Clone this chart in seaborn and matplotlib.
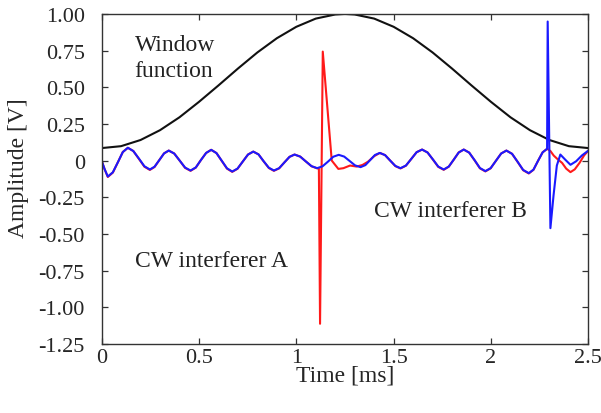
import pandas as pd
import matplotlib
matplotlib.use("Agg")
import matplotlib.pyplot as plt
import seaborn as sns

# Window function (black curve)
t_window = [0.0, 0.1, 0.2, 0.3, 0.4, 0.5, 0.6, 0.7, 0.8, 0.9, 1.0, 1.1, 1.2, 1.25,
            1.3, 1.4, 1.5, 1.6, 1.7, 1.8, 1.9, 2.0, 2.1, 2.2, 2.3, 2.4, 2.5]
v_window = [0.085, 0.098, 0.140, 0.207, 0.295, 0.400, 0.512, 0.627, 0.737, 0.834, 0.912, 0.968, 0.996, 1.000,
            0.996, 0.968, 0.912, 0.834, 0.737, 0.627, 0.512, 0.400, 0.295, 0.207, 0.140, 0.098, 0.085]

# CW interferer B (blue)
t_blue = [0.000, 0.016, 0.032, 0.058, 0.084, 0.109, 0.135,
          0.163, 0.192, 0.220, 0.248,
          0.272, 0.297, 0.321, 0.345,
          0.373, 0.401, 0.429, 0.457,
          0.484, 0.510, 0.537, 0.563,
          0.590, 0.617, 0.644, 0.671,
          0.698, 0.725, 0.752, 0.779,
          0.806, 0.832, 0.859, 0.885,
          0.912, 0.938, 0.965, 0.991,
          1.020, 1.049, 1.078, 1.107,
          1.135, 1.163, 1.190, 1.218,
          1.246, 1.274, 1.302, 1.330,
          1.355, 1.380, 1.404, 1.429,
          1.456, 1.482, 1.509, 1.535,
          1.563, 1.591, 1.618, 1.646,
          1.674, 1.702, 1.729, 1.757,
          1.783, 1.809, 1.834, 1.860,
          1.888, 1.916, 1.943, 1.971,
          1.998, 2.025, 2.052, 2.079,
          2.108, 2.137, 2.165, 2.194,
          2.218, 2.241, 2.265, 2.288,
          2.291, 2.305, 2.321, 2.338, 2.356, 2.382, 2.408, 2.437, 2.467, 2.500]
v_blue = [0.000, -0.060, -0.109, -0.080, -0.011, 0.058, 0.087,
          0.065, 0.013, -0.039, -0.061,
          -0.042, 0.004, 0.049, 0.068,
          0.048, 0.000, -0.048, -0.068,
          -0.047, 0.003, 0.052, 0.073,
          0.051, -0.001, -0.053, -0.075,
          -0.055, -0.007, 0.041, 0.061,
          0.042, -0.004, -0.049, -0.068,
          -0.052, -0.014, 0.025, 0.041,
          0.027, -0.006, -0.038, -0.052,
          -0.039, -0.007, 0.026, 0.039,
          0.027, -0.003, -0.033, -0.045,
          -0.031, 0.004, 0.038, 0.052,
          0.037, 0.000, -0.037, -0.052,
          -0.034, 0.012, 0.057, 0.075,
          0.055, 0.007, -0.041, -0.061,
          -0.041, 0.007, 0.055, 0.075,
          0.054, 0.002, -0.051, -0.072,
          -0.052, -0.002, 0.048, 0.068,
          0.046, -0.009, -0.064, -0.086,
          -0.062, -0.003, 0.056, 0.080,
          0.948, -0.461, -0.239, -0.034, 0.041, 0.005, -0.029, -0.005, 0.035, 0.068]

# CW interferer A (red)
t_red = [0.000, 0.016, 0.032, 0.058, 0.084, 0.109, 0.135,
         0.163, 0.192, 0.220, 0.248,
         0.272, 0.297, 0.321, 0.345,
         0.373, 0.401, 0.429, 0.457,
         0.484, 0.510, 0.537, 0.563,
         0.590, 0.617, 0.644, 0.671,
         0.698, 0.725, 0.752, 0.779,
         0.806, 0.832, 0.859, 0.885,
         0.912, 0.938, 0.965, 0.991,
         1.020, 1.049, 1.078, 1.107,
         1.116, 1.122, 1.136, 1.182, 1.216, 1.242, 1.276, 1.310, 1.340, 1.368, 1.400, 1.429,
         1.456, 1.482, 1.509, 1.535,
         1.563, 1.591, 1.618, 1.646,
         1.674, 1.702, 1.729, 1.757,
         1.783, 1.809, 1.834, 1.860,
         1.888, 1.916, 1.943, 1.971,
         1.998, 2.025, 2.052, 2.079,
         2.108, 2.137, 2.165, 2.194,
         2.218, 2.241, 2.265, 2.288,
         2.305, 2.322, 2.343, 2.365, 2.386, 2.408, 2.430, 2.455, 2.478, 2.500]
v_red = [0.000, -0.060, -0.112, -0.082, -0.011, 0.058, 0.087,
         0.065, 0.011, -0.042, -0.064,
         -0.044, 0.004, 0.049, 0.068,
         0.048, 0.000, -0.050, -0.070,
         -0.048, 0.003, 0.052, 0.073,
         0.051, -0.002, -0.055, -0.077,
         -0.056, -0.007, 0.041, 0.061,
         0.042, -0.005, -0.051, -0.070,
         -0.053, -0.014, 0.025, 0.041,
         0.027, -0.006, -0.039, -0.053,
         -0.055, -1.113, 0.743, 0.000, -0.057, -0.052, -0.034, -0.041, -0.030, -0.008, 0.030, 0.052,
         0.037, 0.000, -0.038, -0.054,
         -0.035, 0.012, 0.057, 0.075,
         0.055, 0.006, -0.043, -0.063,
         -0.042, 0.007, 0.055, 0.075,
         0.054, 0.001, -0.053, -0.074,
         -0.053, -0.002, 0.048, 0.068,
         0.046, -0.010, -0.066, -0.088,
         -0.063, -0.003, 0.056, 0.080,
         0.065, 0.034, 0.008, -0.016, -0.055, -0.079, -0.060, -0.015, 0.035, 0.068]

x_ticks = [0, 0.5, 1, 1.5, 2, 2.5]
x_tick_labels = ["0", "0.5", "1", "1.5", "2", "2.5"]
y_ticks = [1.0, 0.75, 0.5, 0.25, 0, -0.25, -0.5, -0.75, -1.0, -1.25]
y_tick_labels = ["1.00", "0.75", "0.50", "0.25", "0", "-0.25", "-0.50", "-0.75", "-1.00", "-1.25"]

sns.set_style("ticks")
plt.rcParams["font.family"] = ["Liberation Serif", "DejaVu Serif"]

df_red = pd.DataFrame({"t": t_red, "v": v_red})
df_blue = pd.DataFrame({"t": t_blue, "v": v_blue})
df_win = pd.DataFrame({"t": t_window, "v": v_window})

fig = plt.figure(figsize=(6.01, 4.14), dpi=100)
ax = fig.add_axes([0.169, 0.167, 0.810, 0.797])

sns.lineplot(data=df_win, x="t", y="v", color="#111111", linewidth=1.5, estimator=None, sort=False, ax=ax)
sns.lineplot(data=df_red, x="t", y="v", color="#ff1a1a", linewidth=1.5, estimator=None, sort=False, ax=ax)
sns.lineplot(data=df_blue, x="t", y="v", color="#1a1aff", linewidth=1.5, estimator=None, sort=False, ax=ax)

ax.set_xlim(0, 2.5)
ax.set_ylim(-1.25, 1.0)
ax.set_xticks(x_ticks)
ax.set_xticklabels(x_tick_labels)
ax.set_yticks(y_ticks)
ax.set_yticklabels(y_tick_labels)
ax.tick_params(axis="both", direction="in", length=4, width=0.9, color="#333333",
               labelsize=16, top=True, right=True)
ax.tick_params(axis="y", pad=12)
ax.tick_params(axis="x", pad=3)
for s in ax.spines.values():
    s.set_color("#333333")
    s.set_linewidth(1.0)

ax.set_xlabel("Time [ms]", fontsize=17, labelpad=-2)
ax.set_ylabel("Amplitude [V]", fontsize=17)
ax.yaxis.set_label_coords(-0.15, 0.535)

ax.text(0.17, 0.70, "Window\nfunction", fontsize=17, ha="left", va="center", linespacing=1.3, color="#222222")
ax.text(0.17, -0.68, "CW interferer A", fontsize=17, ha="left", va="center", color="#222222")
ax.text(1.40, -0.34, "CW interferer B", fontsize=17, ha="left", va="center", color="#222222")

fig.savefig("out.png", dpi=100)
